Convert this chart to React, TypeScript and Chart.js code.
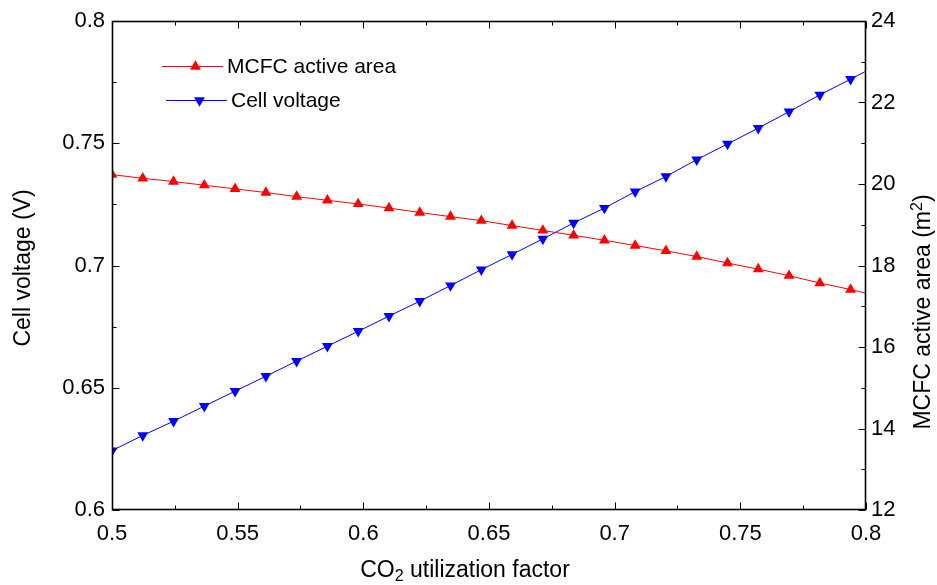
import React, { useEffect, useRef } from 'react';
import { Chart, registerables } from 'chart.js';

Chart.register(...registerables);

// CO2 utilization factor (marker positions, plus the line end at 0.8)
const utilization = [
  0.5, 0.51224, 0.52449, 0.53673, 0.54898, 0.56122, 0.57347, 0.58571, 0.59796,
  0.6102, 0.62245, 0.63469, 0.64694, 0.65918, 0.67143, 0.68367, 0.69592, 0.70816,
  0.72041, 0.73265, 0.7449, 0.75714, 0.76939, 0.78163, 0.79388, 0.8,
];
const cellVoltage = [
  0.6243, 0.6305, 0.6363, 0.6425, 0.6486, 0.6547, 0.6609, 0.667, 0.6731, 0.6793,
  0.6854, 0.6918, 0.6983, 0.7045, 0.7109, 0.7174, 0.7235, 0.7302, 0.7364, 0.7433,
  0.7497, 0.7562, 0.7629, 0.7698, 0.7762, 0.7795,
];
const activeArea = [
  20.23, 20.14, 20.06, 19.97, 19.88, 19.79, 19.69, 19.6, 19.51, 19.41, 19.3, 19.2,
  19.1, 18.98, 18.86, 18.74, 18.62, 18.49, 18.36, 18.22, 18.06, 17.91, 17.75, 17.57,
  17.41, 17.32,
];
const markerCount = 25;

const xTicks = [0.5, 0.55, 0.6, 0.65, 0.7, 0.75, 0.8];
const xMinorTicks = [0.525, 0.575, 0.625, 0.675, 0.725, 0.775];
const voltageTicks = [0.6, 0.65, 0.7, 0.75, 0.8];
const voltageMinorTicks = [0.625, 0.675, 0.725, 0.775];
const areaTicks = [12, 14, 16, 18, 20, 22, 24];
const areaMinorTicks = [13, 15, 17, 19, 21, 23];

const seriesLabels = ['MCFC active area', 'Cell voltage'];
const FONT = '"Liberation Sans", Arial, Helvetica, sans-serif';
const MARKER = 6.3;

function drawTriangle(ctx: CanvasRenderingContext2D, x: number, y: number, r: number, down: boolean, color: string) {
  const s = down ? -1 : 1;
  ctx.beginPath();
  ctx.moveTo(x, y - s * r);
  ctx.lineTo(x + r * Math.sin((2 * Math.PI) / 3), y + s * r * 0.5);
  ctx.lineTo(x - r * Math.sin((2 * Math.PI) / 3), y + s * r * 0.5);
  ctx.closePath();
  ctx.fillStyle = color;
  ctx.fill();
}

const framePlugin = {
  id: 'frameTicks',
  afterDatasetsDraw(chart: any) {
    const { ctx, chartArea } = chart;
    const { left, right, top, bottom } = chartArea;
    const xs = chart.scales.x;
    const yl = chart.scales.y;
    const yr = chart.scales.y1;
    ctx.save();
    ctx.strokeStyle = '#000';
    const L = Math.round(left) + 0.5;
    const R = Math.round(right) - 0.5;
    const T = Math.round(top) + 0.5;
    const B = Math.round(bottom) - 0.5;
    ctx.lineWidth = 1.6;
    ctx.strokeRect(L, T, R - L, B - T);
    ctx.lineWidth = 1;
    ctx.beginPath();
    const major = 7;
    const minor = 4;
    const xt = (vals: number[], len: number) => {
      vals.forEach((v) => {
        const p = Math.round(xs.getPixelForValue(v)) + 0.5;
        ctx.moveTo(p, B);
        ctx.lineTo(p, B - len);
        ctx.moveTo(p, T);
        ctx.lineTo(p, T + len);
      });
    };
    xt(xTicks, major);
    xt(xMinorTicks, minor);
    const ylt = (vals: number[], len: number) => {
      vals.forEach((v) => {
        const p = Math.round(yl.getPixelForValue(v)) + 0.5;
        ctx.moveTo(L, p);
        ctx.lineTo(L + len, p);
      });
    };
    ylt(voltageTicks, major);
    ylt(voltageMinorTicks, minor);
    const yrt = (vals: number[], len: number) => {
      vals.forEach((v) => {
        const p = Math.round(yr.getPixelForValue(v)) + 0.5;
        ctx.moveTo(R, p);
        ctx.lineTo(R - len, p);
      });
    };
    yrt(areaTicks, major);
    yrt(areaMinorTicks, minor);
    ctx.stroke();
    ctx.restore();
  },
  afterDraw(chart: any) {
    const { ctx } = chart;
    ctx.save();
    ctx.fillStyle = '#000';
    ctx.textBaseline = 'alphabetic';
    // x title with subscript
    const size = 23;
    const sub = Math.round(size * 0.7);
    ctx.font = `${size}px ${FONT}`;
    const p1 = 'CO';
    const p3 = ' utilization factor';
    const w1 = ctx.measureText(p1).width;
    const w3 = ctx.measureText(p3).width;
    ctx.font = `${sub}px ${FONT}`;
    const w2 = ctx.measureText('2').width;
    const total = w1 + w2 + w3;
    const cx = 465;
    const x0 = cx - total / 2;
    const base = 577;
    ctx.font = `${size}px ${FONT}`;
    ctx.textAlign = 'left';
    ctx.fillText(p1, x0, base);
    ctx.font = `${sub}px ${FONT}`;
    ctx.fillText('2', x0 + w1, base + 4);
    ctx.font = `${size}px ${FONT}`;
    ctx.fillText(p3, x0 + w1 + w2, base);

    // left title
    ctx.save();
    ctx.translate(30, 268);
    ctx.rotate(-Math.PI / 2);
    ctx.textAlign = 'center';
    ctx.font = `${size}px ${FONT}`;
    ctx.fillText('Cell voltage (V)', 0, 0);
    ctx.restore();

    // right title with superscript
    ctx.save();
    ctx.translate(930, 312);
    ctx.rotate(-Math.PI / 2);
    ctx.textAlign = 'left';
    const r1 = 'MCFC active area (m';
    const r3 = ')';
    ctx.font = `${size}px ${FONT}`;
    const rw1 = ctx.measureText(r1).width;
    const rw3 = ctx.measureText(r3).width;
    ctx.font = `${sub}px ${FONT}`;
    const rw2 = ctx.measureText('2').width;
    const rt = rw1 + rw2 + rw3;
    const rx = -rt / 2;
    ctx.font = `${size}px ${FONT}`;
    ctx.fillText(r1, rx, 0);
    ctx.font = `${sub}px ${FONT}`;
    ctx.fillText('2', rx + rw1, -8);
    ctx.font = `${size}px ${FONT}`;
    ctx.fillText(r3, rx + rw1 + rw2, 0);
    ctx.restore();

    // legend
    const ds = chart.data.datasets;
    const entries = [
      { label: ds[0].label, color: ds[0].borderColor, down: false, x1: 162, x2: 223, y: 66, tx: 227 },
      { label: ds[1].label, color: ds[1].borderColor, down: true, x1: 166, x2: 227, y: 100, tx: 231 },
    ];
    entries.forEach((e) => {
      ctx.strokeStyle = e.color;
      ctx.lineWidth = 1;
      ctx.beginPath();
      ctx.moveTo(e.x1, e.y + 0.5);
      ctx.lineTo(e.x2, e.y + 0.5);
      ctx.stroke();
      drawTriangle(ctx, (e.x1 + e.x2) / 2 + 3, e.y + 0.5, MARKER, e.down, e.color);
      ctx.fillStyle = '#000';
      ctx.font = `21px ${FONT}`;
      ctx.textAlign = 'left';
      ctx.textBaseline = 'middle';
      ctx.fillText(e.label, e.tx, e.y + 1);
    });
    ctx.restore();
  },
};

export default function App() {
  const ref = useRef<HTMLCanvasElement | null>(null);
  useEffect(() => {
    document.body.style.margin = '0';
    const canvas = ref.current;
    if (!canvas) return;
    const radius = (c: any) => (c.dataIndex < markerCount ? MARKER : 0);
    const chart = new Chart(canvas, {
      type: 'line',
      data: {
        datasets: [
          {
            label: seriesLabels[0],
            data: utilization.map((x, i) => ({ x, y: activeArea[i] })),
            yAxisID: 'y1',
            borderColor: '#ff0000',
            backgroundColor: '#ff0000',
            borderWidth: 1,
            pointStyle: 'triangle',
            pointRadius: radius,
            pointBorderWidth: 0,
            pointHoverRadius: 0,
            tension: 0,
          },
          {
            label: seriesLabels[1],
            data: utilization.map((x, i) => ({ x, y: cellVoltage[i] })),
            yAxisID: 'y',
            borderColor: '#0000ff',
            backgroundColor: '#0000ff',
            borderWidth: 1,
            pointStyle: 'triangle',
            pointRotation: 180,
            pointRadius: radius,
            pointBorderWidth: 0,
            pointHoverRadius: 0,
            tension: 0,
          },
        ],
      },
      options: {
        responsive: false,
        animation: false,
        devicePixelRatio: 1,
        layout: { padding: { top: 21, left: 0, right: 0, bottom: 0 } },
        plugins: { legend: { display: false }, tooltip: { enabled: false } },
        events: [],
        scales: {
          x: {
            type: 'linear',
            min: 0.5,
            max: 0.8,
            grid: { display: false, drawTicks: false },
            border: { display: false },
            afterBuildTicks: (s: any) => {
              s.ticks = xTicks.map((v) => ({ value: v }));
            },
            afterFit: (s: any) => {
              s.height = 75;
            },
            ticks: {
              padding: 11,
              color: '#000',
              font: { family: FONT, size: 22 },
              maxRotation: 0,
              callback: (v: any) => String(v),
            },
          },
          y: {
            type: 'linear',
            position: 'left',
            min: 0.6,
            max: 0.8,
            grid: { display: false, drawTicks: false },
            border: { display: false },
            afterBuildTicks: (s: any) => {
              s.ticks = voltageTicks.map((v) => ({ value: v }));
            },
            afterFit: (s: any) => {
              s.width = 112;
            },
            ticks: {
              padding: 7,
              color: '#000',
              font: { family: FONT, size: 22 },
              callback: (v: any) => String(v),
            },
          },
          y1: {
            type: 'linear',
            position: 'right',
            min: 12,
            max: 24,
            grid: { display: false, drawTicks: false },
            border: { display: false },
            afterBuildTicks: (s: any) => {
              s.ticks = areaTicks.map((v) => ({ value: v }));
            },
            afterFit: (s: any) => {
              s.width = 71;
            },
            ticks: {
              padding: 5,
              color: '#000',
              font: { family: FONT, size: 22 },
              callback: (v: any) => String(v),
            },
          },
        },
      },
      plugins: [framePlugin],
    });
    return () => chart.destroy();
  }, []);
  return (
    <div style={{ width: 937, height: 585, background: '#fff' }}>
      <canvas ref={ref} width={937} height={585} style={{ display: 'block' }} />
    </div>
  );
}
